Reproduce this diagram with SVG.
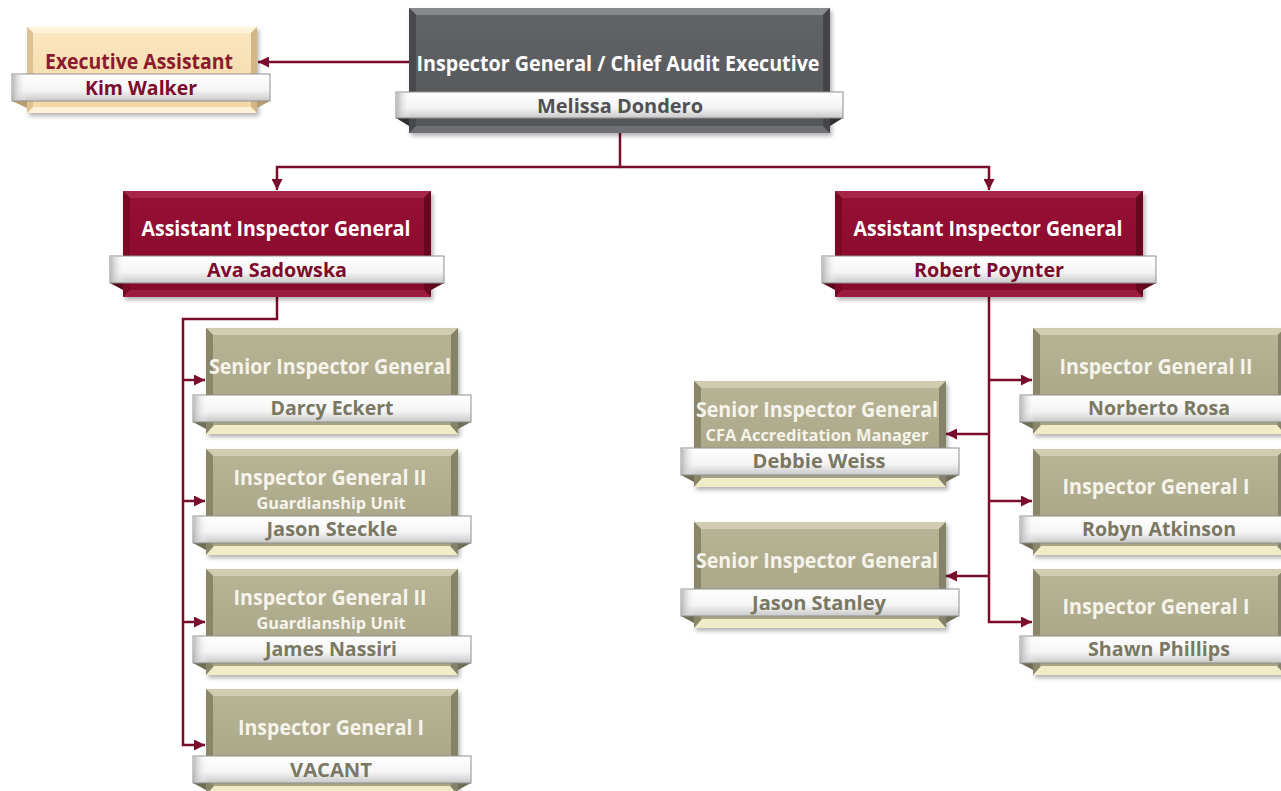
<svg xmlns="http://www.w3.org/2000/svg" xmlns:xlink="http://www.w3.org/1999/xlink" width="1281" height="791" viewBox="0 0 1281 791">
<style>
text{font-family:"Open Sans","Noto Sans","Liberation Sans",sans-serif;font-weight:700;text-anchor:middle}
.t{font-size:20.5px}
.s{font-size:16.5px}
.n{font-size:19.5px}
.tw{fill:#ffffff}
.tk{fill:#f6f4ea}
.nk{fill:#7a7862}
.nr{fill:#7d0b2b}
.ng{fill:#505154}
.conn{fill:none;stroke:#7a0c2c;stroke-width:2.5}
.banner{fill:url(#gBanner);stroke:#8f8f8f;stroke-width:1}
.cap{fill:url(#gCap)}
</style>
<defs>
<marker id="arr" viewBox="0 0 10 10" refX="10" refY="5" markerWidth="11" markerHeight="11" markerUnits="userSpaceOnUse" orient="auto"><path d="M0,0 L10,5 L0,10 z" fill="#7a0c2c"/></marker>
<linearGradient id="gBanner" x1="0" y1="0" x2="0" y2="1"><stop offset="0" stop-color="#ffffff"/><stop offset="0.6" stop-color="#f4f4f4"/><stop offset="1" stop-color="#c9c9c9"/></linearGradient>
<linearGradient id="gCap" x1="0" y1="0" x2="1" y2="0"><stop offset="0" stop-color="#bdbdbd"/><stop offset="1" stop-color="#ffffff" stop-opacity="0"/></linearGradient>
<linearGradient id="gKhaki" x1="0" y1="0" x2="0" y2="1"><stop offset="0" stop-color="#b7b496"/><stop offset="1" stop-color="#a6a385"/></linearGradient>
<linearGradient id="gRed" x1="0" y1="0" x2="0" y2="1"><stop offset="0" stop-color="#970f35"/><stop offset="1" stop-color="#850a2b"/></linearGradient>
<linearGradient id="gGrey" x1="0" y1="0" x2="0" y2="1"><stop offset="0" stop-color="#626367"/><stop offset="1" stop-color="#55565a"/></linearGradient>
<linearGradient id="gPeach" x1="0" y1="0" x2="0" y2="1"><stop offset="0" stop-color="#fbe6bf"/><stop offset="1" stop-color="#f3d8a6"/></linearGradient>
<filter id="sh" x="-5%" y="-5%" width="112%" height="120%"><feDropShadow dx="2" dy="3" stdDeviation="2" flood-color="#000" flood-opacity="0.3"/></filter>

<g id="khaki">
<g filter="url(#sh)">
<rect x="0" y="0" width="252" height="106" fill="#8f8c70"/>
</g>
<polygon points="0,0 252,0 245,7 7,7" fill="#cfccb0"/>
<polygon points="0,0 7,7 7,99 0,106" fill="#8a8769"/>
<polygon points="252,0 245,7 245,99 252,106" fill="#85826a"/>
<polygon points="0,106 8,97 244,97 252,106" fill="#f1ecc8"/>
<rect x="7" y="7" width="238" height="90" fill="url(#gKhaki)"/>
<polygon points="-13,94 0,94 0,101" fill="#6f6c57"/>
<polygon points="265,94 252,94 252,101" fill="#6f6c57"/>
<rect class="banner" x="-13" y="67" width="278" height="27"/>
<rect class="cap" x="-12" y="68" width="14" height="25"/>
</g>

<g id="red">
<g filter="url(#sh)">
<rect x="0" y="0" width="308" height="106" fill="#6e0722"/>
</g>
<polygon points="0,0 308,0 301,7 7,7" fill="#a8254a"/>
<polygon points="0,0 7,7 7,99 0,106" fill="#7c0826"/>
<polygon points="308,0 301,7 301,99 308,106" fill="#6a0620"/>
<polygon points="0,106 7,99 301,99 308,106" fill="#9c1b40"/>
<rect x="7" y="7" width="294" height="92" fill="url(#gRed)"/>
<polygon points="-13,92 0,92 0,99" fill="#5a0519"/>
<polygon points="321,92 308,92 308,99" fill="#5a0519"/>
<rect class="banner" x="-13" y="65" width="334" height="27"/>
<rect class="cap" x="-12" y="66" width="14" height="25"/>
</g>
</defs>

<g id="connectors">
<path class="conn" d="M409,62 H258" marker-end="url(#arr)"/>
<path class="conn" d="M620,133 V167 H277 V190" marker-end="url(#arr)"/>
<path class="conn" d="M620,167 H989 V190" marker-end="url(#arr)"/>
<path class="conn" d="M277,297 V319 H183 V745 H205" marker-end="url(#arr)"/>
<path class="conn" d="M183,380 H205" marker-end="url(#arr)"/>
<path class="conn" d="M183,501 H205" marker-end="url(#arr)"/>
<path class="conn" d="M183,622 H205" marker-end="url(#arr)"/>
<path class="conn" d="M989,297 V622 H1032" marker-end="url(#arr)"/>
<path class="conn" d="M989,380 H1032" marker-end="url(#arr)"/>
<path class="conn" d="M989,501 H1032" marker-end="url(#arr)"/>
<path class="conn" d="M989,434 H946" marker-end="url(#arr)"/>
<path class="conn" d="M989,576 H946" marker-end="url(#arr)"/>
</g>

<g id="node-ea">
<g filter="url(#sh)"><rect x="27" y="27" width="230" height="86" fill="#d9bd8c"/></g>
<polygon points="27,27 257,27 251,33 33,33" fill="#fff3da"/>
<polygon points="27,27 33,33 33,107 27,113" fill="#dcc193"/>
<polygon points="257,27 251,33 251,107 257,113" fill="#d2b685"/>
<polygon points="27,113 33,107 251,107 257,113" fill="#fff2d6"/>
<rect x="33" y="33" width="218" height="74" fill="url(#gPeach)"/>
<polygon points="12,101 27,101 27,108" fill="#b89d6f"/>
<polygon points="270,101 257,101 257,108" fill="#b89d6f"/>
<rect class="banner" x="12" y="74" width="258" height="27"/>
<rect class="cap" x="13" y="75" width="14" height="25"/>
<text class="t" x="139" y="69" fill="#8b1a2f" textLength="188" lengthAdjust="spacingAndGlyphs">Executive Assistant</text>
<text class="n nr" x="141" y="95" textLength="112" lengthAdjust="spacingAndGlyphs">Kim Walker</text>
</g>

<g id="node-ig">
<g filter="url(#sh)"><rect x="409" y="8" width="421" height="125" fill="#3f4043"/></g>
<polygon points="409,8 830,8 823,15 416,15" fill="#88898d"/>
<polygon points="409,8 416,15 416,126 409,133" fill="#48494c"/>
<polygon points="830,8 823,15 823,126 830,133" fill="#444548"/>
<polygon points="409,133 416,126 823,126 830,133" fill="#6f7074"/>
<rect x="416" y="15" width="407" height="111" fill="url(#gGrey)"/>
<polygon points="396,118 409,118 409,126" fill="#2f3033"/>
<polygon points="843,118 830,118 830,126" fill="#2f3033"/>
<rect class="banner" x="396" y="92" width="447" height="26"/>
<rect class="cap" x="397" y="93" width="14" height="24"/>
<text class="t tw" x="618" y="71" textLength="403" lengthAdjust="spacingAndGlyphs">Inspector General / Chief Audit Executive</text>
<text class="n ng" x="620" y="113" textLength="166" lengthAdjust="spacingAndGlyphs">Melissa Dondero</text>
</g>

<g id="node-aig-left">
<use xlink:href="#red" href="#red" transform="translate(123,191)"/>
<text class="t tw" x="276" y="236" textLength="269" lengthAdjust="spacingAndGlyphs">Assistant Inspector General</text>
<text class="n nr" x="277" y="277" textLength="140" lengthAdjust="spacingAndGlyphs">Ava Sadowska</text>
</g>

<g id="node-aig-right">
<use xlink:href="#red" href="#red" transform="translate(835,191)"/>
<text class="t tw" x="988" y="236" textLength="269" lengthAdjust="spacingAndGlyphs">Assistant Inspector General</text>
<text class="n nr" x="989" y="277" textLength="150" lengthAdjust="spacingAndGlyphs">Robert Poynter</text>
</g>

<g id="node-darcy">
<use xlink:href="#khaki" href="#khaki" transform="translate(206,328)"/>
<text class="t tk" x="330" y="374" textLength="242" lengthAdjust="spacingAndGlyphs">Senior Inspector General</text>
<text class="n nk" x="332" y="415" textLength="123" lengthAdjust="spacingAndGlyphs">Darcy Eckert</text>
</g>

<g id="node-steckle">
<use xlink:href="#khaki" href="#khaki" transform="translate(206,449)"/>
<text class="t tk" x="330" y="485" textLength="193" lengthAdjust="spacingAndGlyphs">Inspector General II</text>
<text class="s tk" x="331" y="509" textLength="149" lengthAdjust="spacingAndGlyphs">Guardianship Unit</text>
<text class="n nk" x="332" y="536" textLength="131" lengthAdjust="spacingAndGlyphs">Jason Steckle</text>
</g>

<g id="node-nassiri">
<use xlink:href="#khaki" href="#khaki" transform="translate(206,569)"/>
<text class="t tk" x="330" y="605" textLength="193" lengthAdjust="spacingAndGlyphs">Inspector General II</text>
<text class="s tk" x="331" y="629" textLength="149" lengthAdjust="spacingAndGlyphs">Guardianship Unit</text>
<text class="n nk" x="331" y="656" textLength="132" lengthAdjust="spacingAndGlyphs">James Nassiri</text>
</g>

<g id="node-vacant">
<use xlink:href="#khaki" href="#khaki" transform="translate(206,689)"/>
<text class="t tk" x="331" y="735" textLength="186" lengthAdjust="spacingAndGlyphs">Inspector General I</text>
<text class="n nk" x="331" y="777" textLength="82" lengthAdjust="spacingAndGlyphs">VACANT</text>
</g>

<g id="node-weiss">
<use xlink:href="#khaki" href="#khaki" transform="translate(694,381)"/>
<text class="t tk" x="817" y="417" textLength="242" lengthAdjust="spacingAndGlyphs">Senior Inspector General</text>
<text class="s tk" x="817" y="441" textLength="223" lengthAdjust="spacingAndGlyphs">CFA Accreditation Manager</text>
<text class="n nk" x="819" y="468" textLength="133" lengthAdjust="spacingAndGlyphs">Debbie Weiss</text>
</g>

<g id="node-stanley">
<use xlink:href="#khaki" href="#khaki" transform="translate(694,522)"/>
<text class="t tk" x="817" y="568" textLength="242" lengthAdjust="spacingAndGlyphs">Senior Inspector General</text>
<text class="n nk" x="819" y="610" textLength="134" lengthAdjust="spacingAndGlyphs">Jason Stanley</text>
</g>

<g id="node-rosa">
<use xlink:href="#khaki" href="#khaki" transform="translate(1033,328)"/>
<text class="t tk" x="1156" y="374" textLength="193" lengthAdjust="spacingAndGlyphs">Inspector General II</text>
<text class="n nk" x="1159" y="415" textLength="142" lengthAdjust="spacingAndGlyphs">Norberto Rosa</text>
</g>

<g id="node-atkinson">
<use xlink:href="#khaki" href="#khaki" transform="translate(1033,449)"/>
<text class="t tk" x="1156" y="494" textLength="187" lengthAdjust="spacingAndGlyphs">Inspector General I</text>
<text class="n nk" x="1159" y="536" textLength="154" lengthAdjust="spacingAndGlyphs">Robyn Atkinson</text>
</g>

<g id="node-phillips">
<use xlink:href="#khaki" href="#khaki" transform="translate(1033,569)"/>
<text class="t tk" x="1156" y="614" textLength="187" lengthAdjust="spacingAndGlyphs">Inspector General I</text>
<text class="n nk" x="1159" y="656" textLength="142" lengthAdjust="spacingAndGlyphs">Shawn Phillips</text>
</g>
</svg>
